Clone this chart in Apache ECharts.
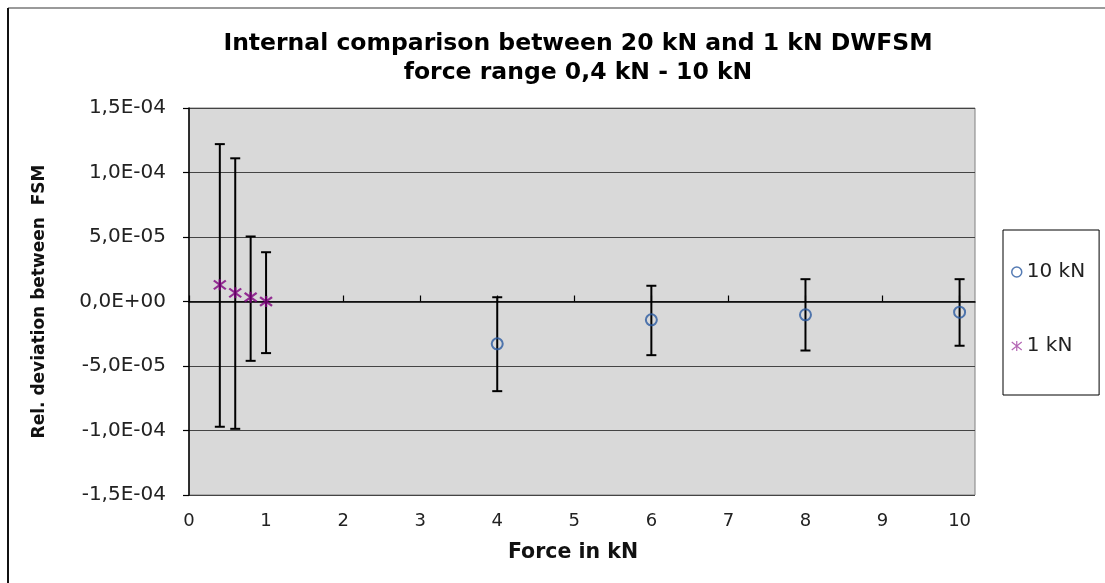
<!DOCTYPE html>
<html>
<head>
<meta charset="utf-8">
<title>Internal comparison between 20 kN and 1 kN DWFSM</title>
<script src="https://cdn.jsdelivr.net/npm/echarts@6/dist/echarts.min.js"></script>
<style>
  html, body { margin: 0; padding: 0; background: #fff; }
  #main { width: 1105px; height: 583px; }
</style>
</head>
<body>
<div id="main"></div>
<script>
// force steps in kN
var force10kN = [4, 6, 8, 10];
var force1kN = [0.4, 0.6, 0.8, 1];

// relative deviation between the two FSM
var dev10kN = [-3.28e-5, -1.42e-5, -1.03e-5, -8.3e-6];
var dev1kN = [1.29e-5, 6.7e-6, 3.3e-6, 0];

// error bar limits
var low10kN = [-6.95e-5, -4.16e-5, -3.80e-5, -3.43e-5];
var high10kN = [3.3e-6, 1.22e-5, 1.73e-5, 1.73e-5];
var low1kN = [-9.71e-5, -9.87e-5, -4.60e-5, -4.00e-5];
var high1kN = [1.22e-4, 1.11e-4, 5.04e-5, 3.82e-5];

var xTicks = [0, 1, 2, 3, 4, 5, 6, 7, 8, 9, 10];
var seriesNames = ['10 kN', '1 kN'];

var myChart = echarts.init(document.getElementById('main'));

function pts(xs, ys) {
    return xs.map(function (x, i) { return [x, ys[i]]; });
}
function bars(xs, lo, hi) {
    return xs.map(function (x, i) { return [x, lo[i], hi[i]]; });
}

// 1,5E-04 style labels
function sci(v) {
    var s = Number(v).toExponential(1).replace('.', ',');
    return s.replace(/e([+-])(\d)$/, 'E$10$2').replace(/e([+-])(\d\d)$/, 'E$1$2');
}

function renderBar(params, api) {
    var x = api.value(0);
    var top = api.coord([x, api.value(2)]);
    var bot = api.coord([x, api.value(1)]);
    var w = 5;
    var st = { stroke: '#000', lineWidth: 2 };
    return {
        type: 'group',
        children: [
            { type: 'line', shape: { x1: top[0], y1: top[1], x2: bot[0], y2: bot[1] }, style: st },
            { type: 'line', shape: { x1: top[0] - w, y1: top[1], x2: top[0] + w, y2: top[1] }, style: st },
            { type: 'line', shape: { x1: bot[0] - w, y1: bot[1], x2: bot[0] + w, y2: bot[1] }, style: st }
        ]
    };
}

var starPath = 'path://M0,1L10,9M0,9L10,1M5,0L5,10';
var font = 'DejaVu Sans';

option = {
    backgroundColor: '#fff',
    animation: false,
    title: {
        text: 'Internal comparison between 20 kN and 1 kN DWFSM\nforce range 0,4 kN - 10 kN',
        left: 573,
        top: 24,
        textAlign: 'center',
        textStyle: {
            fontFamily: font,
            fontSize: 23.5,
            fontWeight: 'bold',
            color: '#000',
            lineHeight: 29
        }
    },
    graphic: [
        { type: 'line', shape: { x1: 8, y1: 8, x2: 1105, y2: 8 }, style: { stroke: '#9a9a9a', lineWidth: 2 } },
        { type: 'line', shape: { x1: 8, y1: 8, x2: 8, y2: 583 }, style: { stroke: '#111', lineWidth: 2 } }
    ],
    legend: {
        orient: 'vertical',
        left: 1003,
        top: 230,
        padding: [32, 14, 39, 8],
        itemGap: 54,
        itemWidth: 10,
        itemHeight: 10,
        borderColor: '#000',
        borderWidth: 1,
        textStyle: { fontFamily: font, fontSize: 20, color: '#222', lineHeight: 20 },
        data: [
            { name: seriesNames[0], icon: 'circle', itemStyle: { color: 'transparent', borderColor: '#2a5aa0', borderWidth: 1.5 } },
            { name: seriesNames[1], icon: starPath, itemStyle: { color: '#800080', borderColor: '#a040a0', borderWidth: 1.2 } }
        ]
    },
    grid: {
        left: 189,
        right: 130,
        top: 108,
        bottom: 88,
        show: true,
        backgroundColor: '#d9d9d9',
        borderColor: '#808080',
        borderWidth: 1
    },
    xAxis: [
        {
            type: 'value',
            min: 0,
            max: 10.2,
            interval: 1,
            position: 'bottom',
            name: 'Force in kN',
            nameLocation: 'middle',
            nameGap: 47,
            nameTextStyle: { fontFamily: font, fontSize: 20.5, fontWeight: 'bold', color: '#111', padding: [0, 18, 0, 0] },
            axisLine: { show: false, onZero: false },
            axisTick: { show: false },
            splitLine: { show: false },
            axisLabel: {
                margin: 17,
                fontFamily: font,
                fontSize: 18,
                color: '#222',
                customValues: xTicks
            }
        },
        {
            type: 'value',
            min: 0,
            max: 10.2,
            interval: 1,
            position: 'top',
            axisLine: { show: true, onZero: true, lineStyle: { color: '#000', width: 1.5 } },
            axisTick: { show: true, length: 6, customValues: xTicks, lineStyle: { color: '#000', width: 1.2 } },
            axisLabel: { show: false },
            splitLine: { show: false }
        }
    ],
    yAxis: {
        type: 'value',
        min: -1.5e-4,
        max: 1.5e-4,
        interval: 5e-5,
        name: 'Rel. deviation between  FSM',
        nameLocation: 'middle',
        nameRotate: 90,
        nameGap: 141,
        nameTextStyle: { fontFamily: font, fontSize: 17, fontWeight: 'bold', color: '#111' },
        axisLine: { show: true, onZero: false, lineStyle: { color: '#000', width: 1.5 } },
        axisTick: { show: true, length: 6, lineStyle: { color: '#000', width: 1.2 } },
        splitLine: { show: true, lineStyle: { color: '#444', width: 1 } },
        axisLabel: {
            margin: 23,
            fontFamily: font,
            fontSize: 20,
            color: '#222',
            formatter: sci
        }
    },
    series: [
        {
            type: 'custom',
            name: 'err10',
            xAxisIndex: 0,
            renderItem: renderBar,
            encode: { x: 0, y: [1, 2] },
            data: bars(force10kN, low10kN, high10kN),
            z: 2
        },
        {
            type: 'custom',
            name: 'err1',
            xAxisIndex: 0,
            renderItem: renderBar,
            encode: { x: 0, y: [1, 2] },
            data: bars(force1kN, low1kN, high1kN),
            z: 2
        },
        {
            type: 'scatter',
            name: seriesNames[0],
            xAxisIndex: 0,
            symbol: 'circle',
            symbolSize: 11,
            itemStyle: { color: 'transparent', borderColor: '#2a5aa0', borderWidth: 2 },
            data: pts(force10kN, dev10kN),
            z: 3
        },
        {
            type: 'scatter',
            name: seriesNames[1],
            xAxisIndex: 0,
            symbol: starPath,
            symbolSize: [12, 11],
            itemStyle: { color: '#800080', borderColor: '#800080', borderWidth: 2.2 },
            data: pts(force1kN, dev1kN),
            z: 3
        }
    ]
};

if (option && typeof option === "object") {
    myChart.setOption(option, true);
}
</script>
</body>
</html>
